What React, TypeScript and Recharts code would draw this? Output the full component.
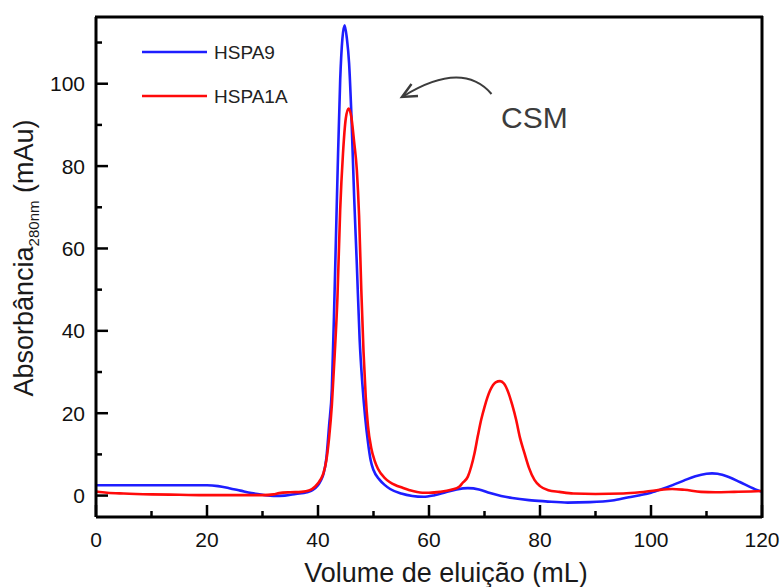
import React from "react";
import { LineChart, Line, XAxis, YAxis } from "recharts";

// ---- Data ----
const seriesNames = ["HSPA9", "HSPA1A"];
const xTicks = [0, 10, 20, 30, 40, 50, 60, 70, 80, 90, 100, 110, 120];
const yTicks = [0, 10, 20, 30, 40, 50, 60, 70, 80, 90, 100, 110];
const xDomain = [0, 120];
const yDomain = [-5.2, 116.2];

const blueX = [
  0, 5, 10, 15, 20, 22, 24, 26, 28, 30, 32, 34, 36, 38, 39, 40, 40.5, 41, 41.5, 42,
  42.5, 43, 43.5, 44, 44.4, 44.8, 45.2, 45.6, 46, 46.5, 47, 47.5, 48, 48.5, 49, 49.5,
  50, 51, 52, 53, 55, 57, 59, 61, 63, 65, 67, 69, 71, 73, 75, 78, 81, 85, 89, 93, 96,
  98, 100, 102, 104, 106, 108, 110, 111, 112, 114, 116, 118, 120,
];
const blueY = [
  2.5, 2.5, 2.5, 2.5, 2.5, 2.3, 1.8, 1.2, 0.6, 0.2, -0.1, 0.0, 0.4, 0.8, 1.3, 2.5, 3.6, 5.3, 9, 17,
  26, 50, 77, 101, 111, 114.2, 111, 105, 93, 73, 56, 38, 27, 19, 13, 8.5,
  6.2, 4, 2.6, 1.6, 0.5, -0.1, -0.3, 0.1, 0.8, 1.5, 1.8, 1.5, 0.6, -0.1, -0.6, -1.1, -1.4, -1.7, -1.6, -1.2, -0.4,
  0.1, 0.7, 1.6, 2.6, 3.7, 4.7, 5.3, 5.4, 5.3, 4.5, 3.3, 2.0, 0.9,
];

const redX = [
  0, 2, 5, 10, 15, 20, 25, 30, 32, 33, 35, 37, 38.5, 39.5, 40.5, 41, 41.5, 42, 42.5, 43,
  43.5, 44, 44.5, 45, 45.5, 46, 46.5, 47, 47.4, 47.8, 48.2, 48.6, 49, 49.6, 50.2, 50.8, 52, 52.9,
  54, 55, 56.5, 58.8, 60, 62, 64, 65.5, 66, 67, 67.6, 68.2, 68.8, 69.4, 70, 71, 72, 72.8,
  73.5, 74.3, 75, 75.7, 76.4, 77.2, 78, 79, 80, 81.5, 83.5, 86, 90, 95, 98, 101, 103.8,
  106, 109, 111.6, 115, 118, 120,
];
const redY = [
  1.0, 0.7, 0.5, 0.3, 0.2, 0.1, 0.1, 0.1, 0.3, 0.6, 0.8, 0.9, 1.3, 2.2, 4, 5.5, 8.5, 14, 22, 34,
  48, 69.5, 83, 91.5, 94, 92, 86, 79, 68, 50, 35, 24, 17, 11.5, 8.5, 6.5, 4.3, 3.3,
  2.5, 2, 1.3, 0.7, 0.7, 0.9, 1.4, 2.2, 3, 4.6, 7, 10.3, 14.5, 18.4, 21.5, 25.5, 27.5, 27.8,
  27.2, 25, 22, 18.4, 14, 10.3, 6.8, 3.8, 2.3, 1.3, 0.9, 0.5, 0.4, 0.5, 0.8, 1.3, 1.6,
  1.4, 0.9, 0.8, 0.9, 1.0, 1.1,
];

const hspa9 = blueX.map((x, i) => ({ x, y: blueY[i] }));
const hspa1a = redX.map((x, i) => ({ x, y: redY[i] }));

const FONT = "'Liberation Sans', Arial, Helvetica, sans-serif";

function XTick(props: any) {
  const { x, y, payload } = props;
  const v = payload.value;
  const major = v % 20 === 0;
  return (
    <g>
      <line x1={x} x2={x} y1={y} y2={y - (major ? 12 : 6)} stroke="#000" strokeWidth={2.5} />
      {major && (
        <text x={x} y={y + 30} textAnchor="middle" fontSize={21} fill="#111" fontFamily={FONT}>
          {v}
        </text>
      )}
    </g>
  );
}

function YTick(props: any) {
  const { x, y, payload } = props;
  const v = payload.value;
  const major = v % 20 === 0;
  return (
    <g>
      <line x1={x} x2={x + (major ? 12 : 6)} y1={y} y2={y} stroke="#000" strokeWidth={2.5} />
      {major && (
        <text x={x - 11} y={y + 7.5} textAnchor="end" fontSize={21} fill="#111" fontFamily={FONT}>
          {v}
        </text>
      )}
    </g>
  );
}

export default function App() {
  return (
    <div style={{ position: "absolute", left: 0, top: 0, width: 784, height: 587, background: "#fff" }}>
      <LineChart
        width={784}
        height={587}
        margin={{ top: 17, right: 22, bottom: 40, left: 36 }}
      >
        <XAxis
          dataKey="x"
          type="number"
          domain={xDomain}
          ticks={xTicks}
          interval={0}
          tickSize={0}
          tickMargin={0}
          tickLine={false}
          tick={<XTick />}
          axisLine={{ stroke: "#000", strokeWidth: 3 }}
          height={30}
          allowDataOverflow
        />
        <YAxis
          type="number"
          domain={yDomain}
          ticks={yTicks}
          interval={0}
          tickSize={0}
          tickMargin={0}
          tickLine={false}
          tick={<YTick />}
          axisLine={{ stroke: "#000", strokeWidth: 3 }}
          width={60}
          allowDataOverflow
        />
        <Line
          data={hspa9}
          dataKey="y"
          name={seriesNames[0]}
          type="monotone"
          stroke="#1e1eff"
          strokeWidth={2.6}
          dot={false}
          isAnimationActive={false}
        />
        <Line
          data={hspa1a}
          dataKey="y"
          name={seriesNames[1]}
          type="monotone"
          stroke="#ff0a0a"
          strokeWidth={2.6}
          dot={false}
          isAnimationActive={false}
        />
      </LineChart>
      <svg
        width={784}
        height={587}
        style={{ position: "absolute", left: 0, top: 0, pointerEvents: "none" }}
      >
        {/* frame */}
        <line x1={95} x2={763} y1={17} y2={17} stroke="#000" strokeWidth={3} />
        <line x1={762} x2={762} y1={16} y2={518} stroke="#000" strokeWidth={3} />
        {/* legend */}
        <line x1={142} x2={207} y1={52} y2={52} stroke="#1e1eff" strokeWidth={2.6} />
        <text x={214} y={59} fontSize={19} fill="#222" fontFamily={FONT}>{seriesNames[0]}</text>
        <line x1={142} x2={207} y1={96} y2={96} stroke="#ff0a0a" strokeWidth={2.6} />
        <text x={214} y={103} fontSize={19} fill="#222" fontFamily={FONT}>{seriesNames[1]}</text>
        {/* CSM annotation */}
        <path d="M 491.5 94 Q 462 60 403 96.5" fill="none" stroke="#3c3c3c" strokeWidth={2} />
        <path d="M 411.5 84 L 402 97 L 418 96" fill="none" stroke="#3c3c3c" strokeWidth={2.4} />
        <text x={501} y={128} fontSize={30} fill="#3c3c3c" fontFamily={FONT}>CSM</text>
        {/* axis titles */}
        <text x={446} y={582} textAnchor="middle" fontSize={27} fill="#1a1a1a" fontFamily={FONT}>
          Volume de eluição (mL)
        </text>
        <text
          x={33}
          y={258}
          transform="rotate(-90, 33, 258)"
          textAnchor="middle"
          fontSize={27}
          fill="#1a1a1a"
          fontFamily={FONT}
        >
          Absorbância
          <tspan fontSize={15} dy={6}>280nm</tspan>
          <tspan dy={-6}> (mAu)</tspan>
        </text>
      </svg>
    </div>
  );
}
